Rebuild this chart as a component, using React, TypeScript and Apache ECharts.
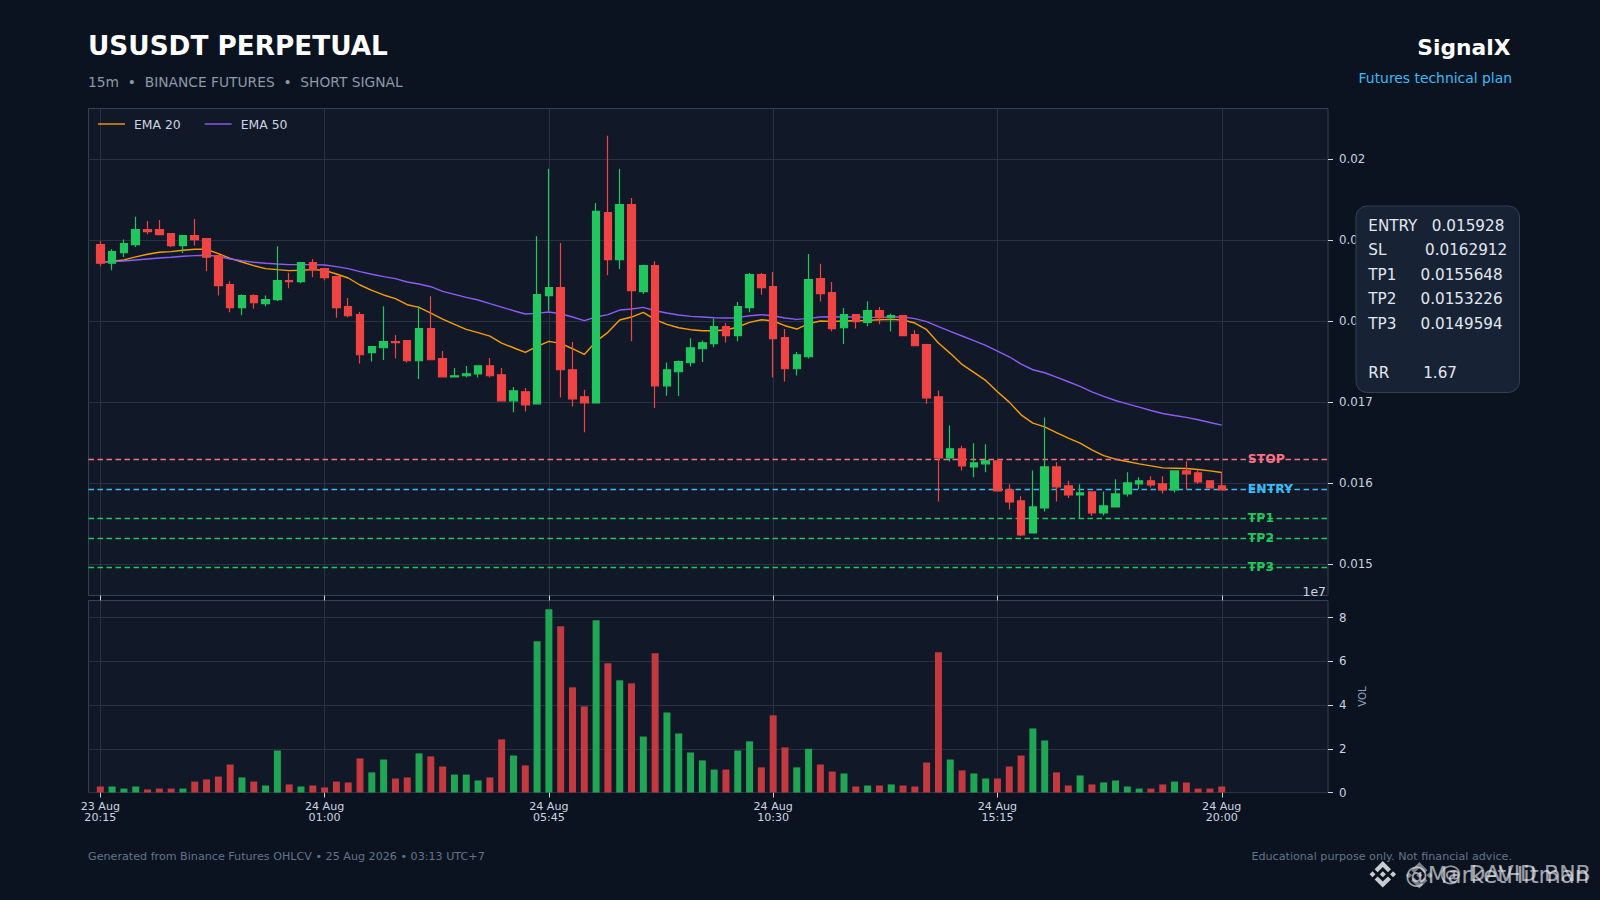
import React, { useEffect, useRef } from "react";
import * as echarts from "echarts";

const FONT = "'DejaVu Sans', sans-serif";

const tickLabels = ["23 Aug\n20:15", "24 Aug\n01:00", "24 Aug\n05:45", "24 Aug\n10:30", "24 Aug\n15:15", "24 Aug\n20:00"];
const priceTicks = [0.015, 0.016, 0.017, 0.018, 0.019, 0.02];
const volumeTicks = [0, 2, 4, 6, 8];

// prices in thousandths of USDT
const opens = [
  18.942, 18.712, 18.843, 18.942, 19.127, 19.127, 19.078, 18.93, 19.053, 19.016, 18.806, 18.448, 18.164, 18.312, 18.214, 18.263,
  18.498, 18.485, 18.72, 18.646, 18.547, 18.177, 18.078, 17.609, 17.67, 17.745, 17.757, 17.51, 17.905, 17.535, 17.312, 17.325,
  17.349, 17.448, 17.337, 17.016, 17.127, 16.979, 18.312, 18.411, 17.399, 17.065, 16.991, 19.337, 18.757, 19.436, 18.362, 18.683,
  17.201, 17.374, 17.485, 17.658, 17.72, 17.93, 17.819, 18.164, 18.572, 18.423, 17.794, 17.411, 17.559, 18.522, 18.349, 17.917,
  18.078, 17.983, 18.127, 18.041, 18.066, 17.831, 17.708, 17.066, 16.313, 16.424, 16.201, 16.239, 16.276, 15.918, 15.782, 15.387,
  15.695, 16.201, 15.967, 15.856, 15.893, 15.634, 15.708, 15.868, 15.992, 16.029, 15.992, 15.918, 16.152, 16.127, 16.029, 15.967,
];
const closes = [
  18.712, 18.856, 18.954, 19.127, 19.102, 19.065, 18.93, 19.053, 19.004, 18.786, 18.436, 18.164, 18.312, 18.226, 18.263, 18.498,
  18.485, 18.72, 18.633, 18.535, 18.164, 18.065, 17.584, 17.683, 17.745, 17.732, 17.51, 17.905, 17.522, 17.312, 17.325, 17.349,
  17.448, 17.325, 17.016, 17.14, 16.967, 18.325, 18.411, 17.399, 17.041, 16.991, 19.353, 18.757, 19.436, 18.374, 18.683, 17.201,
  17.399, 17.498, 17.67, 17.732, 17.93, 17.819, 18.177, 18.572, 18.411, 17.782, 17.411, 17.584, 18.51, 18.337, 17.905, 18.078,
  17.991, 18.127, 18.041, 18.066, 17.819, 17.695, 17.053, 16.313, 16.424, 16.214, 16.251, 16.276, 15.905, 15.769, 15.362, 15.708,
  16.201, 15.955, 15.856, 15.88, 15.634, 15.72, 15.868, 16.004, 16.029, 15.979, 15.918, 16.152, 16.115, 16.016, 15.942, 15.918,
];
const lows = [
  18.675, 18.625, 18.79, 18.913, 19.07, 19.065, 18.909, 18.839, 18.93, 18.613, 18.316, 18.107, 18.07, 18.152, 18.181, 18.247,
  18.403, 18.465, 18.539, 18.502, 18.041, 18.045, 17.477, 17.502, 17.518, 17.539, 17.489, 17.284, 17.522, 17.308, 17.308, 17.304,
  17.304, 17.304, 17.008, 16.876, 16.884, 16.971, 18.127, 17.057, 16.946, 16.629, 16.991, 18.563, 18.642, 17.749, 18.333, 16.926,
  17.078, 17.074, 17.44, 17.493, 17.675, 17.736, 17.749, 18.107, 18.325, 17.304, 17.255, 17.329, 17.539, 18.242, 17.872, 17.716,
  17.909, 17.934, 17.959, 17.872, 17.819, 17.691, 16.979, 15.774, 16.267, 16.156, 16.074, 16.136, 15.905, 15.675, 15.35, 15.383,
  15.65, 15.774, 15.819, 15.568, 15.597, 15.601, 15.708, 15.835, 15.926, 15.946, 15.872, 15.885, 15.918, 15.992, 15.938, 15.918,
];
const highs = [
  18.987, 18.884, 19.004, 19.284, 19.234, 19.246, 19.085, 19.053, 19.259, 19.016, 18.806, 18.489, 18.329, 18.329, 18.316, 18.921,
  18.596, 18.72, 18.765, 18.646, 18.559, 18.284, 18.111, 17.683, 18.181, 17.827, 17.765, 18.181, 18.304, 17.629, 17.419, 17.444,
  17.448, 17.543, 17.419, 17.185, 17.173, 19.045, 19.876, 18.963, 17.74, 17.152, 19.456, 20.283, 19.876, 19.518, 18.695, 18.736,
  17.489, 17.514, 17.786, 17.761, 18.028, 17.975, 18.234, 18.592, 18.592, 18.605, 17.901, 17.617, 18.827, 18.707, 18.481, 18.16,
  18.086, 18.243, 18.173, 18.09, 18.066, 17.885, 17.72, 17.144, 16.712, 16.461, 16.494, 16.481, 16.276, 15.987, 15.839, 16.156,
  16.811, 16.259, 16.029, 15.987, 15.893, 15.897, 16.049, 16.136, 16.074, 16.086, 16.086, 16.152, 16.271, 16.164, 16.029, 16.127,
];
const ema20 = [
  18.724, 18.736, 18.753, 18.79, 18.823, 18.847, 18.856, 18.872, 18.884, 18.884, 18.831, 18.773, 18.728, 18.683, 18.646, 18.633,
  18.621, 18.625, 18.633, 18.625, 18.58, 18.53, 18.444, 18.378, 18.321, 18.275, 18.201, 18.168, 18.098, 18.024, 17.958, 17.897,
  17.856, 17.814, 17.728, 17.67, 17.613, 17.687, 17.749, 17.724, 17.658, 17.588, 17.749, 17.86, 18.012, 18.049, 18.107, 18.016,
  17.958, 17.917, 17.893, 17.88, 17.88, 17.889, 17.926, 17.983, 18.016, 18.0, 17.942, 17.901, 17.967, 18.0, 17.996, 18.0,
  18.004, 18.008, 18.016, 18.02, 18.012, 17.975, 17.893, 17.728, 17.601, 17.465, 17.366, 17.267, 17.127, 17.0, 16.843, 16.741,
  16.695, 16.625, 16.555, 16.494, 16.411, 16.341, 16.296, 16.267, 16.239, 16.214, 16.189, 16.185, 16.181, 16.169, 16.152, 16.132,
];
const ema50 = [
  18.728, 18.732, 18.74, 18.753, 18.765, 18.777, 18.786, 18.798, 18.806, 18.81, 18.798, 18.765, 18.744, 18.724, 18.712, 18.703,
  18.695, 18.695, 18.695, 18.691, 18.67, 18.646, 18.609, 18.576, 18.547, 18.522, 18.481, 18.456, 18.423, 18.366, 18.329, 18.292,
  18.259, 18.214, 18.172, 18.127, 18.086, 18.094, 18.111, 18.09, 18.049, 18.004, 18.049, 18.078, 18.135, 18.148, 18.168, 18.127,
  18.098, 18.074, 18.057, 18.049, 18.041, 18.037, 18.041, 18.065, 18.078, 18.065, 18.037, 18.02, 18.033, 18.049, 18.053, 18.049,
  18.049, 18.045, 18.045, 18.049, 18.049, 18.029, 17.992, 17.93, 17.872, 17.815, 17.757, 17.699, 17.629, 17.559, 17.469, 17.399,
  17.362, 17.308, 17.251, 17.193, 17.127, 17.07, 17.02, 16.979, 16.938, 16.897, 16.86, 16.835, 16.811, 16.782, 16.749, 16.716,
];
// volume in units of 1e7
const volumes = [
  0.275, 0.275, 0.18, 0.275, 0.14, 0.18, 0.18, 0.18, 0.5, 0.6, 0.73, 1.28, 0.69, 0.5, 0.32, 1.92,
  0.37, 0.275, 0.32, 0.23, 0.5, 0.46, 1.56, 0.92, 1.51, 0.64, 0.69, 1.79, 1.65, 1.19, 0.82, 0.82,
  0.55, 0.69, 2.43, 1.69, 1.24, 6.92, 8.38, 7.6, 4.81, 3.94, 7.88, 5.91, 5.13, 4.99, 2.56, 6.37,
  3.66, 2.7, 1.83, 1.47, 1.05, 1.05, 1.92, 2.34, 1.15, 3.53, 2.06, 1.15, 2.0, 1.28, 0.96, 0.87,
  0.275, 0.32, 0.32, 0.37, 0.32, 0.275, 1.37, 6.41, 1.51, 1.01, 0.87, 0.64, 0.64, 1.19, 1.69, 2.93,
  2.38, 0.92, 0.32, 0.78, 0.37, 0.46, 0.55, 0.275, 0.18, 0.18, 0.37, 0.5, 0.46, 0.18, 0.18, 0.275,
];

const levelNames = ["STOP", "ENTRY", "TP1", "TP2", "TP3"];
const levelValues = [0.0162912, 0.015928, 0.0155648, 0.0153226, 0.0149594];
const levelColors = ["#fb7185", "#38bdf8", "#22c55e", "#22c55e", "#22c55e"];

const panelLines = [
  "ENTRY   0.015928",
  "SL        0.0162912",
  "TP1     0.0155648",
  "TP2     0.0153226",
  "TP3     0.0149594",
  "",
  "RR       1.67",
];

const BINANCE =
  "M38.73 53.2l24.59-24.58 24.6 24.6 14.3-14.31L63.32 0 24.42 38.9zM0 63.31l14.3-14.31 14.31 14.31-14.31 14.3zM38.73 73.41l24.59 24.59 24.6-24.6 14.31 14.29-38.9 38.91-38.91-38.88-.02-.02zM98.01 63.31l14.3-14.31 14.31 14.3-14.31 14.32zM77.83 63.3L63.32 48.78 52.59 59.51l-1.24 1.23-2.54 2.54 14.51 14.5 14.51-14.52z";
echarts.graphic.registerShape("binance", echarts.graphic.extendPath(BINANCE, {}));

const SLOTS = 106; // one empty slot before the first candle, nine after the last
const categories = Array.from({ length: SLOTS }, (_, i) => {
  const k = i - 1;
  return k >= 0 && k % 19 === 0 && k / 19 < tickLabels.length ? tickLabels[k / 19] : "";
});
const isTick = (i: number) => categories[i] !== "";
const pad = (arr: any[], empty: any) => {
  const out: any[] = [empty, ...arr];
  while (out.length < SLOTS) out.push(empty);
  return out;
};

const GRID = "#283242";
const BORDER = "#334155";
const TEXT = "#cbd5e1";

function buildOption() {
  const candles = opens.map((o, i) => [o / 1000, closes[i] / 1000, lows[i] / 1000, highs[i] / 1000]);
  const volumeItems = volumes.map((v, i) => ({
    value: v,
    itemStyle: { color: closes[i] >= opens[i] ? "#1fa553" : "#c2393f" },
  }));
  const mil = (a: number[]) => a.map((v) => v / 1000);
  const sharedX = {
    type: "category",
    boundaryGap: false,
    data: categories,
    axisLine: { show: false },
    axisTick: { show: true, length: 5, interval: isTick, lineStyle: { color: TEXT, width: 1 } },
    splitLine: { show: true, interval: isTick, lineStyle: { color: GRID, width: 1 } },
  };
  const text = (t: string, x: number, y: number, size: number, color: string, extra: any = {}) => ({
    type: "text",
    x,
    y,
    z: 100,
    style: { text: t, fontFamily: FONT, fontSize: size, fill: color, textVerticalAlign: "middle", verticalAlign: "middle", ...extra },
  });
  return {
    animation: false,
    backgroundColor: "#0b1220",
    textStyle: { fontFamily: FONT },
    legend: {
      data: ["EMA 20", "EMA 50"],
      left: 93,
      top: 113,
      padding: [5, 5],
      itemWidth: 27,
      itemHeight: 10,
      itemGap: 24,
      icon: "path://M0 4.3H27V5.7H0Z",
      textStyle: { color: TEXT, fontSize: 12.4, fontFamily: FONT, padding: [0, 0, 0, 4] },
    },
    grid: [
      { left: 88.5, right: 272, top: 108.5, height: 487, show: true, backgroundColor: "#111827", borderColor: BORDER, borderWidth: 1 },
      { left: 88.5, right: 272, top: 600.5, height: 192, show: true, backgroundColor: "#111827", borderColor: BORDER, borderWidth: 1 },
    ],
    xAxis: [
      { ...sharedX, gridIndex: 0, axisLabel: { show: false } },
      {
        ...sharedX,
        gridIndex: 1,
        axisLabel: {
          show: true,
          interval: isTick,
          color: TEXT,
          fontSize: 11.1,
          lineHeight: 11,
          margin: 8,
          fontFamily: FONT,
          hideOverlap: false,
        },
      },
    ],
    yAxis: [
      {
        type: "value",
        gridIndex: 0,
        position: "right",
        min: 0.0146153,
        max: 0.0206203,
        axisLine: { show: false },
        axisTick: { show: true, length: 5, customValues: priceTicks, lineStyle: { color: TEXT } },
        axisLabel: {
          customValues: priceTicks,
          color: TEXT,
          fontSize: 11.8,
          margin: 11,
          fontFamily: FONT,
          formatter: (v: number) => String(+v.toFixed(3)),
        },
        splitLine: { show: true, lineStyle: { color: GRID, width: 1 } },
      },
      {
        type: "value",
        gridIndex: 1,
        position: "right",
        min: 0,
        max: 8.78,
        name: "VOL",
        nameLocation: "middle",
        nameRotate: 90,
        nameGap: 16.5,
        nameTextStyle: { color: "#94a3b8", fontSize: 10.3, fontFamily: FONT },
        axisLine: { show: false },
        axisTick: { show: true, length: 5, customValues: volumeTicks, lineStyle: { color: TEXT } },
        axisLabel: { customValues: volumeTicks, color: TEXT, fontSize: 11.8, margin: 11, fontFamily: FONT },
        splitLine: { show: true, lineStyle: { color: GRID, width: 1 } },
      },
    ],
    series: [
      {
        name: "levels",
        type: "scatter",
        xAxisIndex: 0,
        yAxisIndex: 0,
        z: 2,
        silent: true,
        symbolSize: 1,
        itemStyle: { color: "rgba(0,0,0,0)", opacity: 1 },
        data: levelValues.map((v, i) => ({
          name: levelNames[i],
          value: [98, v],
          label: {
            show: true,
            position: "right",
            distance: 2,
            offset: [0, -1],
            formatter: levelNames[i],
            color: levelColors[i],
            fontSize: 12.4,
            fontWeight: "bold",
            fontFamily: FONT,
          },
        })),
        markLine: {
          silent: true,
          symbol: "none",
          animation: false,
          precision: 8,
          label: { show: false },
          data: levelValues.map((v, i) => ({
            yAxis: v,
            lineStyle: { color: levelColors[i], type: [5.5, 3.5], width: 1.4, opacity: 1 },
          })),
        },
      },
      {
        name: "EMA 20",
        type: "line",
        xAxisIndex: 0,
        yAxisIndex: 0,
        z: 3,
        showSymbol: false,
        symbol: "none",
        connectNulls: false,
        data: pad(mil(ema20), null),
        itemStyle: { color: "#f59e0b" },
        lineStyle: { color: "#f59e0b", width: 1.4 },
      },
      {
        name: "EMA 50",
        type: "line",
        xAxisIndex: 0,
        yAxisIndex: 0,
        z: 3,
        showSymbol: false,
        symbol: "none",
        connectNulls: false,
        data: pad(mil(ema50), null),
        itemStyle: { color: "#8b5cf6" },
        lineStyle: { color: "#8b5cf6", width: 1.4 },
      },
      {
        name: "candles",
        type: "candlestick",
        xAxisIndex: 0,
        yAxisIndex: 0,
        z: 5,
        barWidth: 8,
        data: pad(candles, ["-", "-", "-", "-"]),
        itemStyle: { color: "#22c55e", color0: "#ef4444", borderColor: "#22c55e", borderColor0: "#ef4444", borderWidth: 1.2 },
      },
      {
        name: "volume",
        type: "bar",
        xAxisIndex: 1,
        yAxisIndex: 1,
        z: 5,
        barWidth: 7,
        data: pad(volumeItems, null),
      },
    ],
    graphic: [
      text("USUSDT PERPETUAL", 88, 46, 26.3, "#ffffff", { fontWeight: "bold" }),
      text("15m  •  BINANCE FUTURES  •  SHORT SIGNAL", 88, 81.5, 13.8, "#8d99a8"),
      text("SignalX", 1510.5, 47, 21.8, "#ffffff", { fontWeight: "bold", textAlign: "right", align: "right" }),
      text("Futures technical plan", 1512, 78, 13.9, "#38bdf8", { textAlign: "right", align: "right" }),
      text("1e7", 1326, 591, 12.4, TEXT, { textAlign: "right", align: "right" }),
      text("Generated from Binance Futures OHLCV • 25 Aug 2026 • 03:13 UTC+7", 88, 856.5, 11.15, "#64748b"),
      text("Educational purpose only. Not financial advice.", 1512, 856.5, 11.15, "#64748b", { textAlign: "right", align: "right" }),
      {
        type: "rect",
        z: 99,
        shape: { x: 1356, y: 206, width: 163.5, height: 186.5, r: 11 },
        style: { fill: "#172234", stroke: BORDER, lineWidth: 1 },
      },
      ...panelLines.map((line, i) => text(line, 1368.3, 225.5 + i * 24.6, 15.2, "#e2e8f0")),
      { type: "binance", x: 1369.5, y: 861, scaleX: 0.21, scaleY: 0.21, z: 101, style: { fill: "rgba(235,238,242,0.85)" } },
      { type: "binance", x: 1406, y: 862, scaleX: 0.21, scaleY: 0.21, z: 100, style: { fill: "rgba(235,238,242,0.5)" } },
      text("@MarketHitman", 1405, 874.5, 22.8, "rgba(235,238,242,0.68)"),
      text("@ DAVID BNB", 1590.7, 873.5, 22, "rgba(235,238,242,0.65)", { textAlign: "right", align: "right" }),
    ],
  };
}

export default function App() {
  const ref = useRef<HTMLDivElement>(null);
  useEffect(() => {
    document.body.style.margin = "0";
    document.body.style.background = "#0b1220";
    const chart = echarts.init(ref.current!, undefined, { renderer: "svg" });
    chart.setOption(buildOption() as any);
    return () => chart.dispose();
  }, []);
  return <div ref={ref} style={{ position: "absolute", left: 0, top: 0, width: 1600, height: 900 }} />;
}
